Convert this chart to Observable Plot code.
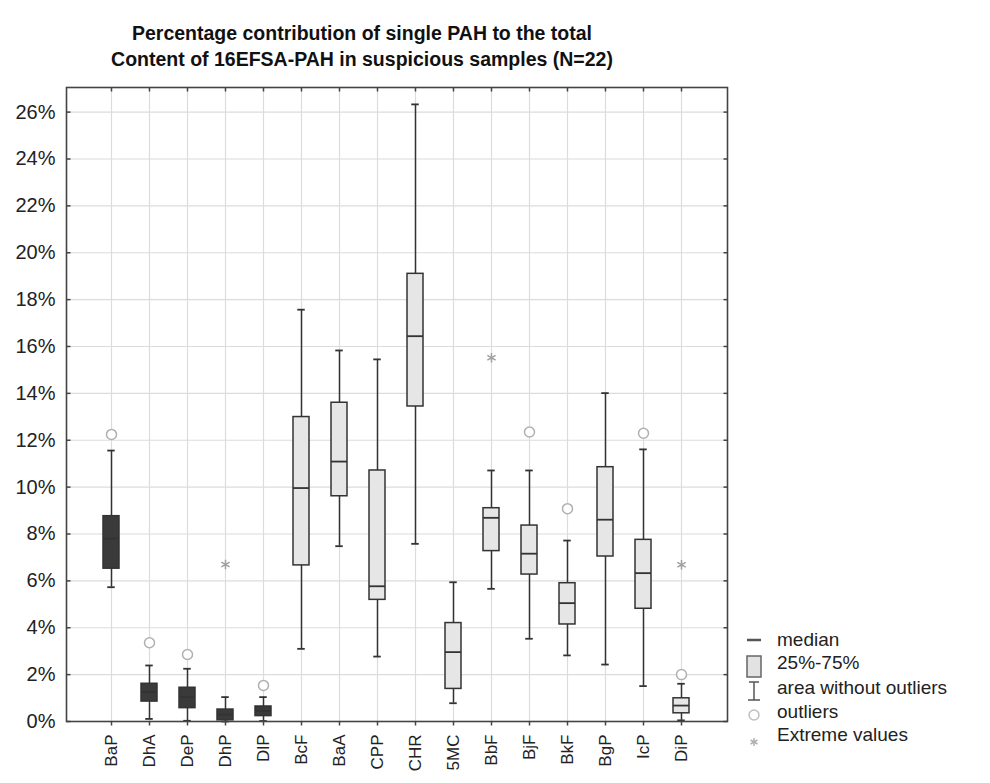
<!DOCTYPE html>
<html>
<head>
<meta charset="utf-8">
<script src="https://cdn.jsdelivr.net/npm/d3@7"></script>
<script src="https://cdn.jsdelivr.net/npm/@observablehq/plot@0.6"></script>
<style>
  html, body { margin: 0; padding: 0; background: #fff; }
  #page { position: relative; width: 990px; height: 783px; overflow: hidden; font-family: "Liberation Sans", Arial, sans-serif; }
  #title { width: 724px; height: 80px; box-sizing: border-box; padding-top: 20px; text-align: center;
           font-weight: bold; font-size: 19.5px; line-height: 26px; color: #111; }
  #chart svg { display: block; }
  .leg { position: absolute; left: 777px; font-size: 19px; line-height: 22px; color: #222; white-space: nowrap; }
  #legsym { position: absolute; left: 0; top: 0; }
</style>
</head>
<body>
<div id="page">
  <div id="title">Percentage contribution of single PAH to the total<br>Content of 16EFSA-PAH in suspicious samples (N=22)</div>
  <div id="chart"></div>
</div>
<script>
// ---- data ----
const categories = ["BaP","DhA","DeP","DhP","DlP","BcF","BaA","CPP","CHR","5MC","BbF","BjF","BkF","BgP","IcP","DiP"];
const q1          = [6.52, 0.85, 0.57, 0.05, 0.23, 6.66, 9.61, 5.19, 13.44, 1.39, 7.27, 6.27, 4.14, 7.04, 4.81, 0.35];
const medians     = [7.80, 1.25, 1.04, 0.30, 0.45, 9.96, 11.09, 5.77, 16.44, 2.96, 8.69, 7.16, 5.05, 8.61, 6.33, 0.68];
const q3          = [8.76, 1.61, 1.44, 0.51, 0.64, 12.99, 13.60, 10.71, 19.10, 4.20, 9.10, 8.36, 5.90, 10.85, 7.75, 0.99];
const whiskerLow  = [5.73, 0.11, 0.03, 0.00, 0.02, 3.10, 7.48, 2.77, 7.58, 0.78, 5.66, 3.53, 2.82, 2.43, 1.51, 0.05];
const whiskerHigh = [11.56, 2.39, 2.25, 1.04, 1.04, 17.57, 15.83, 15.45, 26.33, 5.94, 10.71, 10.71, 7.72, 14.01, 11.61, 1.61];
const darkBoxes   = ["BaP","DhA","DeP","DhP","DlP"];
const outlierCats   = ["BaP","DhA","DeP","DlP","BjF","BkF","IcP","DiP"];
const outlierValues = [12.25, 3.36, 2.86, 1.54, 12.35, 9.08, 12.30, 2.00];
const extremeCats   = ["DhP","BbF","DiP"];
const extremeValues = [6.70, 15.52, 6.69];
const yTicks = [0,2,4,6,8,10,12,14,16,18,20,22,24,26];
const legendLabels = ["median","25%-75%","area without outliers","outliers","Extreme values"];

// ---- tables built from the arrays ----
const rows = categories.map((c, i) => ({cat: c, q1: q1[i], med: medians[i], q3: q3[i], lo: whiskerLow[i], hi: whiskerHigh[i], dark: darkBoxes.includes(c)}));
const outliers = outlierCats.map((c, i) => ({cat: c, value: outlierValues[i]}));
const extremes = extremeCats.map((c, i) => ({cat: c, value: extremeValues[i]}));

// small inward tick-mark symbols for the frame edges
const tickSym = (dx, dy) => ({draw(ctx) { ctx.moveTo(0, 0); ctx.lineTo(dx, dy); }});

const ink = "#333";
const chart = Plot.plot({
  width: 990, height: 703,
  marginTop: 7, marginBottom: 62, marginLeft: 66, marginRight: 263,
  style: {fontFamily: "'Liberation Sans', Arial, sans-serif", color: "#222", background: "white", overflow: "visible"},
  x: {type: "band", domain: categories, paddingInner: 0.576, paddingOuter: 0.788, label: null},
  y: {domain: [0, 27.05], label: null},
  marks: [
    Plot.gridX({stroke: "#dcdcdc", strokeOpacity: 1, strokeWidth: 1.2}),
    Plot.gridY(yTicks, {stroke: "#dcdcdc", strokeOpacity: 1, strokeWidth: 1.2}),
    Plot.axisY(yTicks, {tickFormat: d => d + "%", tickSize: 0, tickPadding: 11, fontSize: 20}),
    Plot.axisX({tickRotate: -90, tickSize: 0, tickPadding: 13, fontSize: 17}),
    // frame tick marks
    Plot.dot(yTicks, {y: d => d, frameAnchor: "left", symbol: tickSym(4, 0), stroke: "#444", strokeWidth: 1.5}),
    Plot.dot(yTicks, {y: d => d, frameAnchor: "right", symbol: tickSym(-4, 0), stroke: "#444", strokeWidth: 1.5}),
    Plot.dot(categories, {x: d => d, frameAnchor: "top", symbol: tickSym(0, 4), stroke: "#444", strokeWidth: 1.5}),
    Plot.dot(categories, {x: d => d, frameAnchor: "bottom", symbol: tickSym(0, 4), stroke: "#444", strokeWidth: 1.5}),
    // box plots
    Plot.ruleX(rows, {x: "cat", y1: "lo", y2: "hi", stroke: ink, strokeWidth: 1.5}),
    Plot.tickY(rows, {x: "cat", y: "hi", inset: 4.25, stroke: ink, strokeWidth: 1.8}),
    Plot.tickY(rows, {x: "cat", y: "lo", inset: 4.25, stroke: ink, strokeWidth: 1.8}),
    Plot.barY(rows.filter(d => !d.dark), {x: "cat", y1: "q1", y2: "q3", fill: "#e6e6e6", stroke: ink, strokeWidth: 1.5}),
    Plot.barY(rows.filter(d => d.dark), {x: "cat", y1: "q1", y2: "q3", fill: "#3a3a3a", stroke: ink, strokeWidth: 1.5}),
    Plot.tickY(rows, {x: "cat", y: "med", stroke: ink, strokeWidth: 1.8}),
    Plot.dot(outliers, {x: "cat", y: "value", r: 5, stroke: "#b0b0b0", fill: "white", strokeWidth: 1.5}),
    Plot.dot(extremes, {x: "cat", y: "value", symbol: "asterisk", r: 4.5, stroke: "#a0a0a0", strokeWidth: 1.5}),
    Plot.frame({stroke: "#444", strokeWidth: 1.6})
  ]
});
document.getElementById("chart").appendChild(chart);

// ---- legend ----
const page = document.getElementById("page");
const textCenters = [640, 663, 688, 712, 735];
legendLabels.forEach((t, i) => {
  const s = document.createElement("div");
  s.className = "leg";
  s.style.top = (textCenters[i] - 11) + "px";
  s.textContent = t;
  page.appendChild(s);
});
const sym = d3.select(page).append("svg").attr("id", "legsym").attr("width", 990).attr("height", 783);
const cx = 754;
sym.append("line").attr("x1", cx - 7).attr("x2", cx + 7).attr("y1", 640).attr("y2", 640).attr("stroke", "#555").attr("stroke-width", 2.5);
sym.append("rect").attr("x", cx - 7).attr("y", 656).attr("width", 14).attr("height", 21).attr("fill", "#e2e2e2").attr("stroke", "#666").attr("stroke-width", 1.5);
sym.append("line").attr("x1", cx).attr("x2", cx).attr("y1", 682).attr("y2", 700).attr("stroke", "#555").attr("stroke-width", 1.5);
sym.append("line").attr("x1", cx - 5).attr("x2", cx + 5).attr("y1", 682).attr("y2", 682).attr("stroke", "#555").attr("stroke-width", 1.5);
sym.append("line").attr("x1", cx - 6).attr("x2", cx + 6).attr("y1", 700).attr("y2", 700).attr("stroke", "#555").attr("stroke-width", 1.5);
sym.append("circle").attr("cx", cx).attr("cy", 715).attr("r", 5).attr("fill", "white").attr("stroke", "#c0c0c0").attr("stroke-width", 1.5);
const ast = sym.append("g").attr("transform", `translate(${cx},742)`).attr("stroke", "#b0b0b0").attr("stroke-width", 1.5);
[0, 60, 120].forEach(a => {
  const r = 4, rad = a * Math.PI / 180;
  ast.append("line").attr("x1", -r * Math.sin(rad)).attr("y1", -r * Math.cos(rad)).attr("x2", r * Math.sin(rad)).attr("y2", r * Math.cos(rad));
});
</script>
</body>
</html>
